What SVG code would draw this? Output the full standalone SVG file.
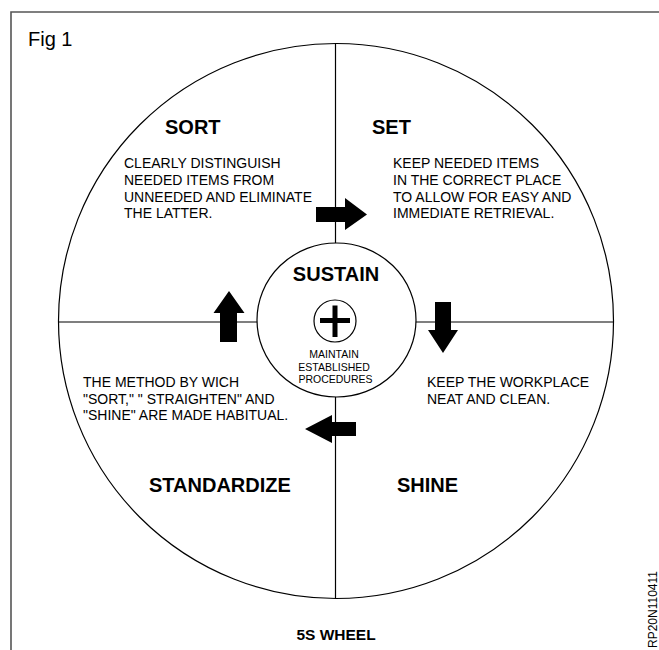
<svg xmlns="http://www.w3.org/2000/svg" width="659" height="650" viewBox="0 0 659 650">
  <style>
    text { font-family: "Liberation Sans", Arial, sans-serif; fill: #000; }
    .title { font-size: 20px; font-weight: bold; }
    .desc { font-size: 14px; }
    .small { font-size: 10.5px; }
    .line { stroke: #000; stroke-width: 1.2; fill: none; }
    .arrow { fill: #000; stroke: none; }
  </style>
  <rect width="659" height="650" fill="#fff"/>
  <g id="frame">
    <path d="M11,650 V12 H659" fill="none" stroke="#555" stroke-width="1.6"/>
    <text x="28" y="46" style="font-size:20px">Fig 1</text>
  </g>
  <g id="wheel">
    <circle cx="336" cy="321" r="277.5" class="line"/>
    <line x1="58.5" y1="322" x2="257" y2="322" class="line"/>
    <line x1="416" y1="322" x2="613.5" y2="322" class="line"/>
    <line x1="335.5" y1="43.5" x2="335.5" y2="243" class="line"/>
    <line x1="335.5" y1="397" x2="335.5" y2="598.5" class="line"/>
  </g>
  <g id="sort">
    <text x="165" y="134" class="title">SORT</text>
    <text class="desc">
      <tspan x="124" y="168">CLEARLY DISTINGUISH</tspan>
      <tspan x="124" y="185">NEEDED ITEMS FROM</tspan>
      <tspan x="124" y="201.5">UNNEEDED AND ELIMINATE</tspan>
      <tspan x="124" y="218">THE LATTER.</tspan>
    </text>
  </g>
  <g id="set">
    <text x="372" y="134" class="title">SET</text>
    <text class="desc">
      <tspan x="393" y="168">KEEP NEEDED ITEMS</tspan>
      <tspan x="393" y="185">IN THE CORRECT PLACE</tspan>
      <tspan x="393" y="201.5">TO ALLOW FOR EASY AND</tspan>
      <tspan x="393" y="218">IMMEDIATE RETRIEVAL.</tspan>
    </text>
  </g>
  <g id="shine">
    <text class="desc">
      <tspan x="427" y="387">KEEP THE WORKPLACE</tspan>
      <tspan x="427" y="403.5">NEAT AND CLEAN.</tspan>
    </text>
    <text x="397" y="492" class="title">SHINE</text>
  </g>
  <g id="standardize">
    <text class="desc">
      <tspan x="83" y="387">THE METHOD BY WICH</tspan>
      <tspan x="83" y="403.5">"SORT," " STRAIGHTEN" AND</tspan>
      <tspan x="83" y="420">"SHINE" ARE MADE HABITUAL.</tspan>
    </text>
    <text x="149" y="492" class="title">STANDARDIZE</text>
  </g>
  <g id="sustain">
    <ellipse cx="336.5" cy="320" rx="79.5" ry="77" class="line" fill="#fff"/>
    <text x="336" y="281" class="title" text-anchor="middle">SUSTAIN</text>
    <circle cx="335" cy="321" r="21" class="line" stroke-width="1"/>
    <path d="M320,320.5 H350 M335,305.5 V337" stroke="#000" stroke-width="5" fill="none"/>
    <text class="small" text-anchor="middle">
      <tspan x="335.5" y="358">MAINTAIN</tspan>
      <tspan x="335.5" y="370.5">ESTABLISHED</tspan>
      <tspan x="335.5" y="383">PROCEDURES</tspan>
    </text>
  </g>
  <g id="connectors">
    <polygon class="arrow" points="316,207 345,207 345,198 367,214.5 345,230 345,222 316,222"/>
    <polygon class="arrow" points="435,302 451,302 451,330 458,330 443,353 428,330 435,330"/>
    <polygon class="arrow" points="356,422 332,422 332,415 305,429 332,443 332,436 356,436"/>
    <polygon class="arrow" points="229,291 244.5,313 237,313 237,342 220,342 220,313 213.5,313"/>
  </g>
  <g id="caption">
    <text x="336" y="640" text-anchor="middle" style="font-size:15.5px;font-weight:bold">5S WHEEL</text>
    <text transform="translate(657,648) rotate(-90)" style="font-size:12px">RP20N110411</text>
  </g>
</svg>
